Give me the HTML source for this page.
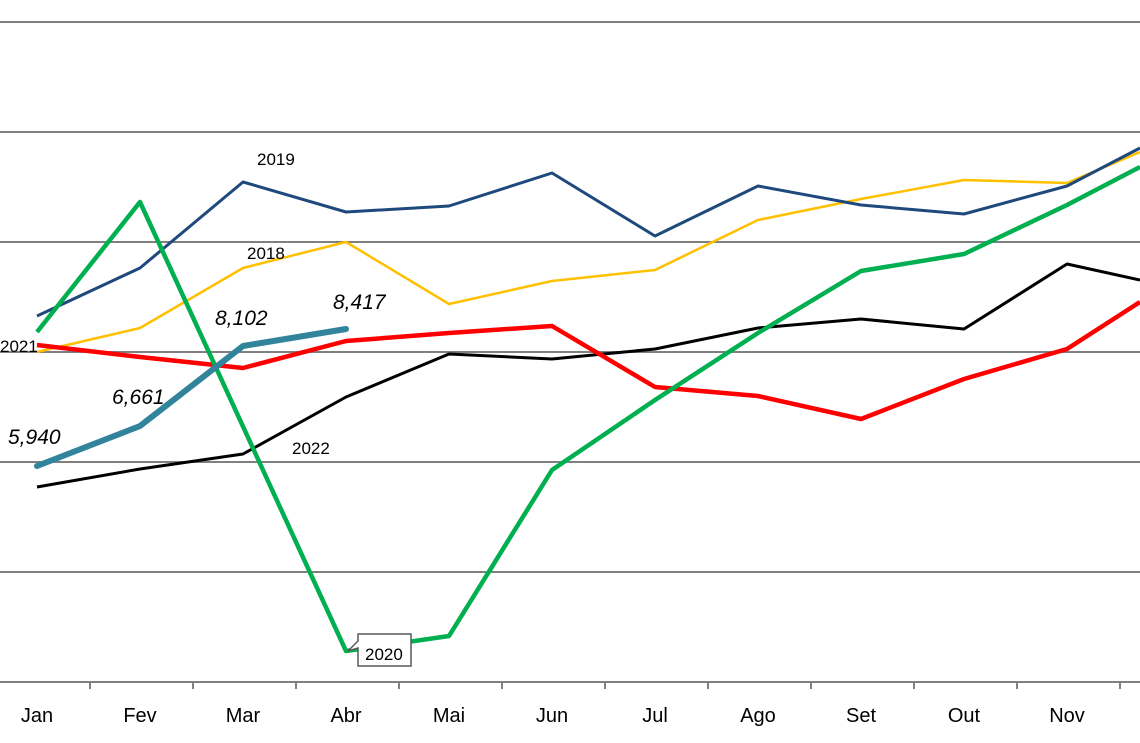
<!DOCTYPE html>
<html><head><meta charset="utf-8"><style>
html,body{margin:0;padding:0;background:#fff;}
svg{display:block;}
text{font-family:"Liberation Sans",sans-serif;}
</style></head><body>
<svg width="1140" height="743" viewBox="0 0 1140 743" xmlns="http://www.w3.org/2000/svg">
<g stroke="#808080" stroke-width="2">
<line x1="0" y1="22" x2="1140" y2="22"/>
<line x1="0" y1="132" x2="1140" y2="132"/>
<line x1="0" y1="242" x2="1140" y2="242"/>
<line x1="0" y1="352" x2="1140" y2="352"/>
<line x1="0" y1="462" x2="1140" y2="462"/>
<line x1="0" y1="572" x2="1140" y2="572"/>
<line x1="0" y1="682" x2="1140" y2="682"/>
<line x1="90" y1="682" x2="90" y2="689"/>
<line x1="193" y1="682" x2="193" y2="689"/>
<line x1="296" y1="682" x2="296" y2="689"/>
<line x1="399" y1="682" x2="399" y2="689"/>
<line x1="502" y1="682" x2="502" y2="689"/>
<line x1="605" y1="682" x2="605" y2="689"/>
<line x1="708" y1="682" x2="708" y2="689"/>
<line x1="811" y1="682" x2="811" y2="689"/>
<line x1="914" y1="682" x2="914" y2="689"/>
<line x1="1017" y1="682" x2="1017" y2="689"/>
<line x1="1120" y1="682" x2="1120" y2="689"/>
</g>
<g font-size="20" fill="#000" text-anchor="middle">
<text x="37" y="722">Jan</text><text x="140" y="722">Fev</text><text x="243" y="722">Mar</text>
<text x="346" y="722">Abr</text><text x="449" y="722">Mai</text><text x="552" y="722">Jun</text>
<text x="655" y="722">Jul</text><text x="758" y="722">Ago</text><text x="861" y="722">Set</text>
<text x="964" y="722">Out</text><text x="1067" y="722">Nov</text>
</g>
<g fill="none" stroke-linejoin="round">
<polyline stroke="#000" stroke-width="3" points="37,487 140,469 243,454 346,397 449,354 552,359 655,349 758,328 861,319 964,329 1067,264 1140,280"/>
<polyline stroke="#FFC000" stroke-width="2.5" points="37,352 140,328 243,268 346,242 449,304 552,281 655,270 758,220 861,199 964,180 1067,183 1140,152"/>
<polyline stroke="#1F497D" stroke-width="3" points="37,316 140,268 243,182 346,212 449,206 552,173 655,236 758,186 861,205 964,214 1067,186 1140,148"/>
<polyline stroke="#FF0000" stroke-width="4.5" points="37,345 140,357 243,368 346,341 449,333 552,326 655,387 758,396 861,419 964,379 1067,349 1140,302"/>
<polyline stroke="#00B050" stroke-width="4.5" points="37,332 140,202 346,651 449,636 552,470 655,400 758,333 861,271 964,254 1067,205 1140,167"/>
<polyline stroke="#31849B" stroke-width="6" stroke-linecap="round" points="37,466 140,426 243,346 346,329"/>
</g>
<g font-size="17" fill="#000">
<text x="257" y="165">2019</text>
<text x="247" y="259">2018</text>
<text x="292" y="454">2022</text>
<text x="0" y="352">2021</text>
</g>
<path d="M358,634 H411 V666 H358 V648 L348,651 L358,641 Z" fill="#fff" stroke="#595959" stroke-width="1.5"/>
<text x="365" y="660" font-size="17">2020</text>
<g font-size="21" font-style="italic" fill="#000">
<text x="8" y="444">5,940</text>
<text x="112" y="404">6,661</text>
<text x="215" y="325">8,102</text>
<text x="333" y="309">8,417</text>
</g>
</svg>
</body></html>
